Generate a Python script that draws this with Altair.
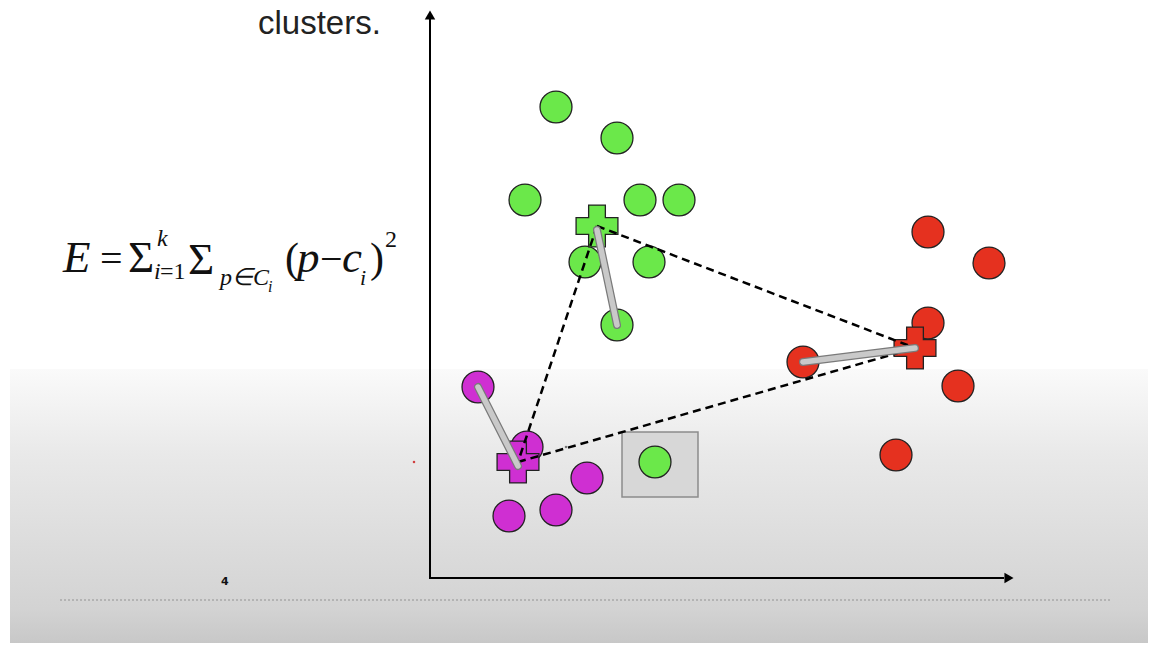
import altair as alt
import pandas as pd

# ---- data (image pixel coordinates, y downward) ----
green_x = [556, 617, 525, 640, 679, 585, 649, 617, 655]
green_y = [107, 138, 200, 200, 200, 262, 262, 325, 462]
red_x = [928, 989, 928, 958, 896, 803]
red_y = [232, 263, 323, 386, 455, 362]
mag_x = [478, 527, 587, 556, 509]
mag_y = [387, 447, 478, 510, 516]

clusters = ["green", "red", "magenta"]
cent_x = [597, 915, 518]
cent_y = [226, 348, 462]
colors = ["#6be84a", "#e5311f", "#cf2fd2"]

# points that moved to their centroid (gray arrows)
move_from_x = [617, 803, 478]
move_from_y = [325, 362, 387]

# formula pieces
f_text = ["E", "=", "Σ", "k", "i", "=1", "Σ", "p∈C", "i", "(", "p", "−", "c", "i", ")", "2"]
f_x = [63, 100, 128, 157, 154, 160, 188, 220, 268, 285, 297, 320, 342, 360, 370, 385]
f_y = [272, 272, 272, 246, 279, 279, 274, 285, 292, 272, 272, 272, 272, 285, 272, 247]
f_size = [45, 40, 45, 24, 24, 24, 45, 24, 16, 42, 45, 40, 45, 22, 42, 24]
f_italic = [True, False, False, True, True, False, False, True, True, False, True, False, True, True, False, False]

W, H = 1140, 635
X = lambda f="x": alt.X(f"{f}:Q", scale=alt.Scale(domain=[8, 8 + W], nice=False, zero=False), axis=None)
Y = lambda f="y": alt.Y(f"{f}:Q", scale=alt.Scale(domain=[8, 8 + H], nice=False, zero=False, reverse=True), axis=None)

# background gradient band
bg = alt.Chart(pd.DataFrame({"x": [10], "x2": [1150], "y": [369], "y2": [651]})).mark_rect(
    color=alt.LinearGradient(
        gradient="linear",
        stops=[
            alt.GradientStop(color="#fafafa", offset=0),
            alt.GradientStop(color="#e9e9e9", offset=0.3),
            alt.GradientStop(color="#d9d9d9", offset=0.7),
            alt.GradientStop(color="#d3d3d3", offset=0.85),
            alt.GradientStop(color="#c5c5c5", offset=1),
        ],
        x1=0, x2=0, y1=0, y2=1,
    )
).encode(x=X(), x2="x2:Q", y=Y(), y2="y2:Q")

dotted = alt.Chart(pd.DataFrame({"x": [60], "x2": [1112], "y": [600]})).mark_rule(
    color="#a8a8a8", strokeDash=[2, 2], strokeWidth=1.5
).encode(x=X(), x2="x2:Q", y=Y())

# axes with arrowheads
vaxis = alt.Chart(pd.DataFrame({"x": [430], "y": [18], "y2": [579]})).mark_rule(
    color="black", strokeWidth=2
).encode(x=X(), y=Y(), y2="y2:Q")
haxis = alt.Chart(pd.DataFrame({"x": [429], "x2": [1004], "y": [578]})).mark_rule(
    color="black", strokeWidth=2
).encode(x=X(), x2="x2:Q", y=Y())
arrow_up = alt.Chart(pd.DataFrame({"x": [430], "y": [15]})).mark_point(
    shape="triangle-up", filled=True, color="black", size=110, opacity=1
).encode(x=X(), y=Y())
arrow_right = alt.Chart(pd.DataFrame({"x": [1009], "y": [578]})).mark_point(
    shape="triangle-right", filled=True, color="black", size=110, opacity=1
).encode(x=X(), y=Y())

# highlighted box
box = alt.Chart(pd.DataFrame({"x": [622], "x2": [698], "y": [432], "y2": [497]})).mark_rect(
    fill="#d7d7d7", stroke="#8c8c8c", strokeWidth=1.5
).encode(x=X(), x2="x2:Q", y=Y(), y2="y2:Q")

# points
pts = pd.DataFrame({
    "x": green_x + red_x + mag_x,
    "y": green_y + red_y + mag_y,
    "cluster": ["green"] * len(green_x) + ["red"] * len(red_x) + ["magenta"] * len(mag_x),
})
color_scale = alt.Scale(domain=clusters, range=colors)
points = alt.Chart(pts).mark_point(
    shape="circle", filled=True, size=1020, stroke="#222222", strokeWidth=1.3, opacity=1
).encode(x=X(), y=Y(), fill=alt.Fill("cluster:N", scale=color_scale, legend=None))

cent = pd.DataFrame({"x": cent_x, "y": cent_y, "cluster": clusters})
crosses = alt.Chart(cent).mark_point(
    shape="cross", filled=True, size=1750, stroke="#222222", strokeWidth=1.3, opacity=1
).encode(x=X(), y=Y(), fill=alt.Fill("cluster:N", scale=color_scale, legend=None))

# dashed triangle between centroids
tri_rows = []
pairs = [(0, 1), (0, 2), (2, 1)]
for s, (a, b) in enumerate(pairs):
    tri_rows.append({"seg": s, "o": 0, "x": cent_x[a], "y": cent_y[a]})
    tri_rows.append({"seg": s, "o": 1, "x": cent_x[b], "y": cent_y[b]})
tri = alt.Chart(pd.DataFrame(tri_rows)).mark_line(
    color="black", strokeDash=[8, 5], strokeWidth=2.5
).encode(x=X(), y=Y(), detail="seg:N", order="o:Q")

# gray movement arrows
mv_rows = []
for s in range(3):
    mv_rows.append({"seg": s, "o": 0, "x": move_from_x[s], "y": move_from_y[s]})
    mv_rows.append({"seg": s, "o": 1, "x": cent_x[s], "y": cent_y[s] + (4 if s != 1 else 0)})
mv = pd.DataFrame(mv_rows)
mv_dark = alt.Chart(mv).mark_line(color="#7a7a7a", strokeWidth=8, strokeCap="round").encode(
    x=X(), y=Y(), detail="seg:N", order="o:Q")
mv_light = alt.Chart(mv).mark_line(color="#c9c9c9", strokeWidth=5.5, strokeCap="round").encode(
    x=X(), y=Y(), detail="seg:N", order="o:Q")

# small specks
specks = alt.Chart(pd.DataFrame({"x": [414, 566], "y": [462, 447], "c": ["#d04040", "#777777"]})).mark_point(
    shape="square", filled=True, size=5, opacity=1
).encode(x=X(), y=Y(), color=alt.Color("c:N", scale=None))

# texts
title = alt.Chart(pd.DataFrame({"x": [258], "y": [34], "t": ["clusters."]})).mark_text(
    font="Liberation Sans", fontSize=33, align="left", baseline="alphabetic", color="#222222"
).encode(x=X(), y=Y(), text="t:N")

four = alt.Chart(pd.DataFrame({"x": [221], "y": [585], "t": ["4"]})).mark_text(
    font="DejaVu Sans", fontSize=11, fontWeight="bold", align="left", baseline="alphabetic", color="#111111"
).encode(x=X(), y=Y(), text="t:N")

fdf = pd.DataFrame({"t": f_text, "x": f_x, "y": f_y, "s": f_size, "it": f_italic})
f_it = alt.Chart(fdf[fdf.it]).mark_text(
    font="Liberation Serif", fontStyle="italic", align="left", baseline="alphabetic", color="#111111"
).encode(x=X(), y=Y(), text="t:N", size=alt.Size("s:Q", scale=None))
f_up = alt.Chart(fdf[~fdf.it]).mark_text(
    font="Liberation Serif", align="left", baseline="alphabetic", color="#111111"
).encode(x=X(), y=Y(), text="t:N", size=alt.Size("s:Q", scale=None))

chart = alt.layer(
    bg, dotted, box, vaxis, haxis, arrow_up, arrow_right, specks,
    points, crosses, tri, mv_dark, mv_light, title, four, f_it, f_up
).properties(
    width=W, height=H, autosize=alt.AutoSizeParams(type="none"), padding=0, background="white"
).configure_view(stroke=None)

chart.save("out.html", embed_options={"renderer": "svg", "actions": False})
